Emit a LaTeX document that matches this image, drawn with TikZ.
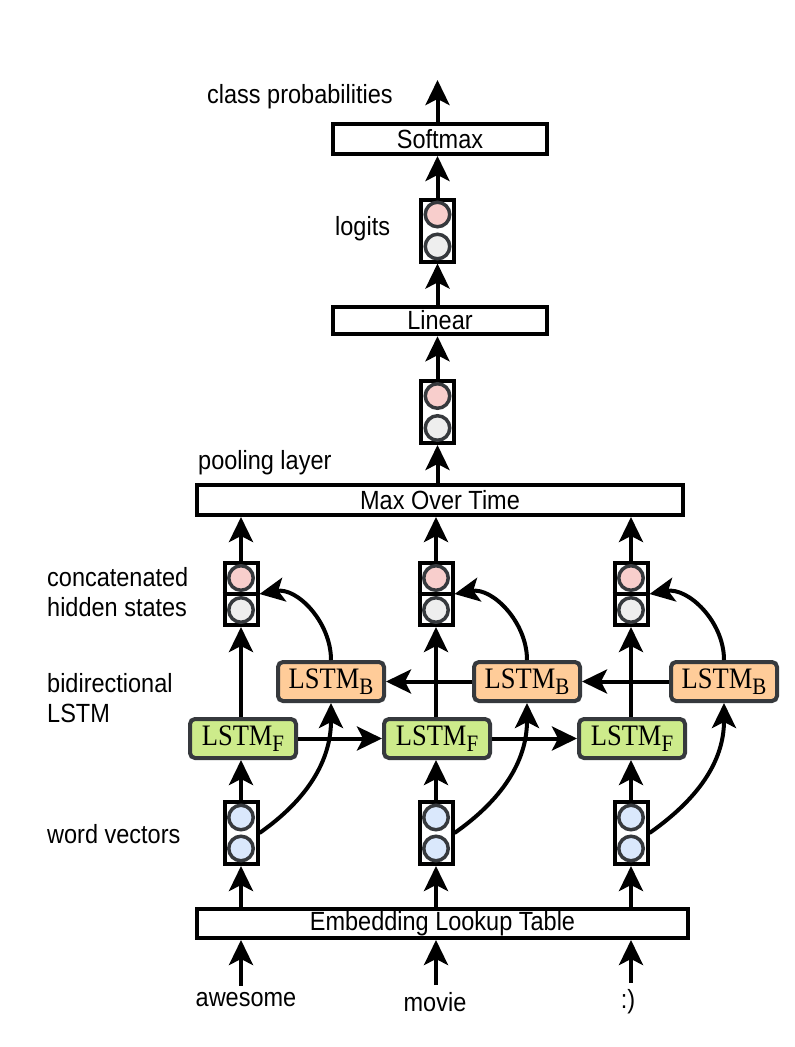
\documentclass[tikz,border=0pt]{standalone}
\usepackage{graphicx}
\usepackage{fontspec}
\setmainfont{Liberation Sans}
\newfontfamily\lstmfont{Liberation Serif}
\usetikzlibrary{arrows.meta}
\definecolor{cpink}{HTML}{F8CECC}
\definecolor{cgray}{HTML}{EEEEEE}
\definecolor{cblue}{HTML}{DAE8FC}
\definecolor{cgreen}{HTML}{CDEB8B}
\definecolor{corange}{HTML}{FFCC99}
\definecolor{cstroke}{HTML}{36393D}
\newcommand\vs[1]{\scalebox{1}[1.12]{#1}}
\newcommand\lstmtxt[1]{\vs{\lstmfont\fontsize{26.5}{30}\selectfont LSTM\raisebox{-5pt}{\fontsize{21}{22}\selectfont #1}}}
\newcommand\twolines[2]{\vs{\begin{tabular}{@{}l@{}}#1\\#2\end{tabular}}}
\tikzset{
 arr/.style={line width=4pt, -{Stealth[length=25pt,width=24pt,inset=6pt]}},
 lab/.style={font=\fontsize{23.5}{26.8}\selectfont, inner sep=0pt, align=left},
 layerbox/.style={draw, line width=4pt, fill=white, inner sep=0pt, font=\fontsize{23.5}{28}\selectfont},
 lstmbox/.style={draw=cstroke, line width=4pt, rounded corners=5pt, minimum width=106pt, minimum height=39pt, inner sep=0pt},
 vecbox/.style={draw, line width=4pt, fill=white, minimum width=33pt, minimum height=62pt, inner sep=0pt},
 unit/.style={circle, draw=cstroke, line width=3.5pt, minimum size=24.5pt, inner sep=0pt},
}
\newcommand\mkvec[6]{% name, x, y, top fill, bottom fill, half gap
 \node[vecbox] (#1) at (#2,#3) {};
 \node[unit, fill=#4] (#1t) at (#2,#3-#6) {};
 \node[unit, fill=#5] (#1b) at (#2,#3+#6) {};
}
\begin{document}
\begin{tikzpicture}[x=1pt,y=-1pt]
\useasboundingbox[fill=white] (0,0) rectangle (795,1047);

% layers
\node[layerbox, minimum width=491pt, minimum height=29pt] (emb) at (442.5,923.5) {\vs{Embedding Lookup Table}};
\node[layerbox, minimum width=486pt, minimum height=30pt] (mx) at (440,500) {\vs{Max Over Time}};
\node[layerbox, minimum width=214pt, minimum height=27.5pt] (lin) at (440,320.5) {\vs{Linear}};
\node[layerbox, minimum width=214pt, minimum height=30pt] (sm) at (440,139) {\vs{Softmax}};

% words
\node[lab] (wd1) at (246,1000) {\vs{awesome}};
\node[lab] (wd2) at (435,1002) {\vs{movie}};
\node[lab] (wd3) at (628,1002) {\vs{:)}};

% word vectors
\mkvec{w1}{241}{833}{cblue}{cblue}{15.5}
\mkvec{w2}{436}{833}{cblue}{cblue}{15.5}
\mkvec{w3}{631}{833}{cblue}{cblue}{15.5}

% LSTM boxes
\node[lstmbox, fill=cgreen] (f1) at (243,738.5) {\lstmtxt{F}};
\node[lstmbox, fill=cgreen] (f2) at (437,738.5) {\lstmtxt{F}};
\node[lstmbox, fill=cgreen] (f3) at (632,738.5) {\lstmtxt{F}};
\node[lstmbox, fill=corange] (b1) at (331,681.5) {\lstmtxt{B}};
\node[lstmbox, fill=corange] (b2) at (527,681.5) {\lstmtxt{B}};
\node[lstmbox, fill=corange] (b3) at (724,681.5) {\lstmtxt{B}};

% hidden states
\node[vecbox] (h1) at (241,594) {};
\node[vecbox] (h2) at (436,594) {};
\node[vecbox] (h3) at (631,594) {};
\foreach \h in {h1,h2,h3}{
 \draw[line width=4pt] (\h.west) -- (\h.east);
 \node[unit, fill=cpink] at ([yshift=16pt]\h.center) {};
 \node[unit, fill=cgray] at ([yshift=-16pt]\h.center) {};
}

% pooled and logits
\mkvec{pl}{437.5}{412}{cpink}{cgray}{16}
\mkvec{lg}{437.5}{230.5}{cpink}{cgray}{16}

\coordinate (out) at (437.5,80);

% arrows: words -> embedding
\draw[arr] ([yshift=7pt]wd1.north -| w1) -- (w1 |- emb.south);
\draw[arr] ([yshift=7pt]wd2.north -| w2) -- (w2 |- emb.south);
\draw[arr] ([yshift=7pt]wd3.north -| w3) -- (w3 |- emb.south);

\foreach \i in {1,2,3}{
 \draw[arr] (w\i |- emb.north) -- (w\i.south);
 \draw[arr] (w\i.north) -- (w\i |- f\i.south);
 \draw[arr] (w\i |- f\i.north) -- (h\i.south);
 \draw[arr] (h\i.north) -- (h\i |- mx.south);
 \draw[arr] (w\i.east) to[out=35,in=-90] (b\i.south);
 \draw[arr] (b\i.north) to[out=90,in=10] (h\i.east);
}
\draw[arr] (f1.east) -- (f2.west);
\draw[arr] (f2.east) -- (f3.west);
\draw[arr] (b3.west) -- (b2.east);
\draw[arr] (b2.west) -- (b1.east);

\draw[arr] (pl |- mx.north) -- (pl.south);
\draw[arr] (pl.north) -- (pl |- lin.south);
\draw[arr] (lg |- lin.north) -- (lg.south);
\draw[arr] (lg.north) -- (lg |- sm.south);
\draw[arr] (lg |- sm.north) -- (out);

% labels
\node[lab, anchor=west] (lcp) at (207,97) {\vs{class probabilities}};
\node[lab, anchor=west] (llg) at (335,229) {\vs{logits}};
\node[lab, anchor=west] (lpl) at (198,463) {\vs{pooling layer}};
\node[lab, anchor=west] (lhs) at (47,595) {\twolines{concatenated}{hidden states}};
\node[lab, anchor=west] (lbi) at (47,701) {\twolines{bidirectional}{LSTM}};
\node[lab, anchor=west] (lwv) at (47,834) {\vs{word vectors}};
\end{tikzpicture}
\end{document}
